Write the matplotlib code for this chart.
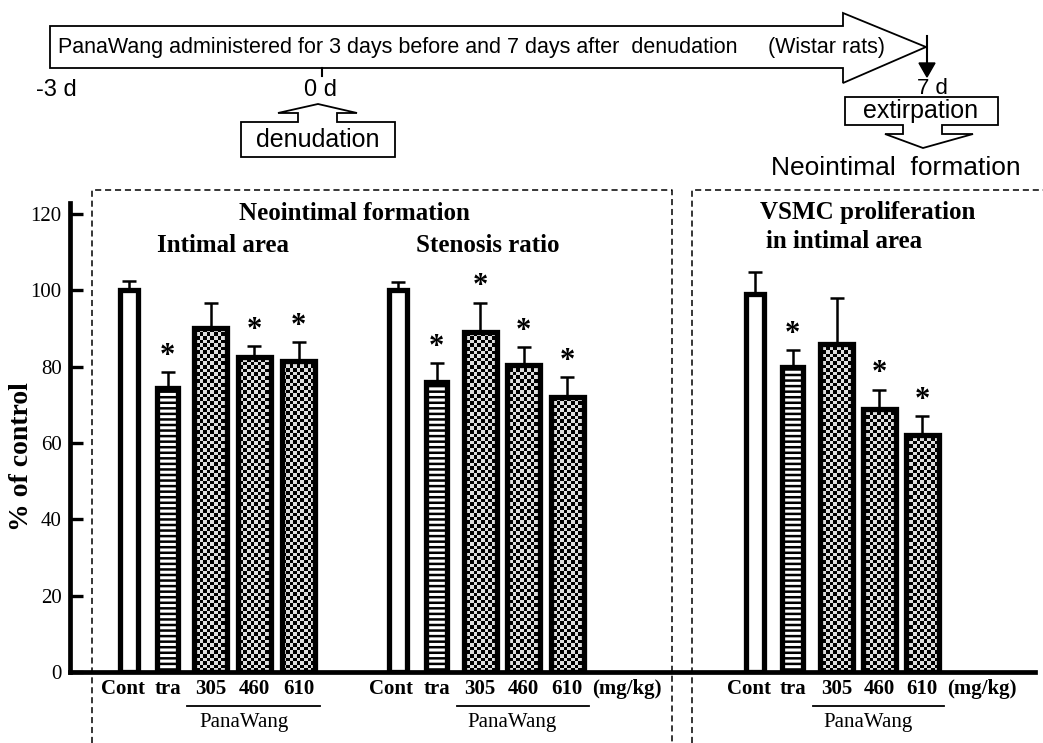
import numpy as np
import matplotlib
matplotlib.use('Agg')
import matplotlib.pyplot as plt
from matplotlib.patches import Polygon

# values, % of control
groups = ['Cont', 'tra', '305', '460', '610']
intimal_area = [100, 74.5, 90, 82.5, 81.5]
intimal_err = [2.4, 4.1, 6.7, 2.9, 5.0]
intimal_sig = [False, True, False, True, True]
stenosis_ratio = [100, 76, 89, 80.5, 72]
stenosis_err = [2.1, 5.0, 7.8, 4.7, 5.3]
stenosis_sig = [False, True, True, True, True]
vsmc_prolif = [99, 80, 86, 69, 62]
vsmc_err = [5.8, 4.3, 12.0, 5.0, 5.1]
vsmc_sig = [False, True, False, True, True]
yticks = [0, 20, 40, 60, 80, 100, 120]

# layout (x in figure pixels)
pos_intimal = [129, 167.5, 210.5, 254, 298.5]
pos_stenosis = [397.5, 436.5, 480, 523.5, 567]
pos_vsmc = [754.5, 792.5, 836.5, 879, 922]
widths = [18, 21, 33, 33, 33]
fills = ['open', 'stripe', 'check', 'check', 'check']

SERIF = 'Liberation Serif'
SANS = 'Liberation Sans'
plt.rcParams['hatch.linewidth'] = 1.8

fig = plt.figure(figsize=(10.43, 7.43), dpi=100)

# overlay in pixel coordinates for the schematic and frames
top = fig.add_axes([0, 0, 1, 1])
top.set_xlim(0, 1043)
top.set_ylim(743, 0)
top.axis('off')

PX = 458 / 120.0
ax = fig.add_axes([70 / 1043, 71 / 743, 965 / 1043, 469 / 743])
ax.set_xlim(70, 1035)
ax.set_ylim(0, 469 / PX)
ax.patch.set_alpha(0)

# checkerboard texture
cell = 3.6
nx, ny = int(965 / cell), int(469 / cell)
board = (np.add.outer(np.arange(ny), np.arange(nx)) % 2).astype(float)


def draw_panel(pos, vals, errs, sig):
    for x, v, e, w, f, s in zip(pos, vals, errs, widths, fills, sig):
        ax.errorbar([x], [v], yerr=[[0], [e]], fmt='none', ecolor='black',
                    elinewidth=1.8, capsize=5, capthick=1.8, zorder=1)
        if f == 'stripe':
            ax.bar(x, v, width=w, color='white', edgecolor='black',
                   hatch='---', linewidth=0, zorder=2)
        else:
            b = ax.bar(x, v, width=w, color='white', linewidth=0, zorder=2)[0]
            if f == 'check':
                im = ax.imshow(board, cmap='gray', interpolation='nearest',
                               extent=(70, 1035, 0, 469 / PX), aspect='auto',
                               vmin=0, vmax=1.15, zorder=2.5)
                im.set_clip_path(b)
        ax.bar(x, v, width=w, fill=False, edgecolor='black',
               linewidth=3.8, zorder=3)
        if s:
            ax.text(x, v + e + 0.3, '*', ha='center', va='bottom',
                    fontsize=22, fontweight='bold', family=SERIF, zorder=4)


draw_panel(pos_intimal, intimal_area, intimal_err, intimal_sig)
draw_panel(pos_stenosis, stenosis_ratio, stenosis_err, stenosis_sig)
draw_panel(pos_vsmc, vsmc_prolif, vsmc_err, vsmc_sig)
ax.set_xlim(70, 1035)
ax.set_ylim(0, 469 / PX)

for side in ['top', 'right']:
    ax.spines[side].set_visible(False)
ax.spines['left'].set_linewidth(3.4)
ax.spines['bottom'].set_linewidth(3.4)
ax.set_xticks([])
ax.set_yticks(yticks)
ax.set_yticklabels([str(t) for t in yticks], family=SERIF, fontsize=15)
ax.tick_params(axis='y', direction='in', length=9, width=2.4, pad=6)
top.text(22, 457, '% of control', rotation=90, ha='center', va='center',
         family=SERIF, fontsize=20, fontweight='bold')

# group labels under the axis
label_dx = [-6, 0, 0, 0, 0]
for pos, unit in [(pos_intimal, False), (pos_stenosis, True), (pos_vsmc, True)]:
    for x, g, dx in zip(pos, groups, label_dx):
        top.text(x + dx, 689, g, ha='center', va='center', family=SERIF,
                 fontsize=15, fontweight='bold')
    left = pos[2] - widths[2] / 2 - 7
    right = pos[4] + widths[4] / 2 + 5
    top.plot([left, right], [706, 706], color='black', lw=1.3)
    top.text((left + right) / 2 - 10, 723, 'PanaWang', ha='center',
             va='center', family=SERIF, fontsize=15)
    if unit:
        top.text(pos[4] + 25, 689, '(mg/kg)', ha='left', va='center',
                 family=SERIF, fontsize=15, fontweight='bold')

# panel titles
bold = dict(family=SERIF, fontsize=18, fontweight='bold', va='center')
top.text(354, 214, 'Neointimal formation', ha='center', **bold)
top.text(223, 245, 'Intimal area', ha='center', **bold)
top.text(488, 245, 'Stenosis ratio', ha='center', **bold)
top.text(760, 212, 'VSMC proliferation', ha='left', **bold)
top.text(766, 242, 'in intimal area', ha='left', **bold)

# dashed frames
dash = dict(color='black', lw=1.1, ls=(0, (4, 2.5)))
top.plot([92, 92, 672, 672], [743, 190, 190, 743], **dash)
top.plot([692, 692, 1043], [743, 190, 190], **dash)

# schematic: big arrow
arrow = [(50, 26), (843, 26), (843, 13), (926, 47), (843, 83), (843, 68), (50, 68)]
top.add_patch(Polygon(arrow, closed=True, fill=False, ec='black', lw=1.3))
top.text(58, 47, 'PanaWang administered for 3 days before and 7 days after  denudation',
         ha='left', va='center', family=SANS, fontsize=15.5)
top.text(768, 47, '(Wistar rats)', ha='left', va='center', family=SANS, fontsize=15.5)
top.plot([322, 322], [68, 76], color='black', lw=1.5)
top.plot([927, 927], [36, 64], color='black', lw=1.5)
top.add_patch(Polygon([(919, 63), (935, 63), (927, 77)], closed=True,
                      fc='black', ec='black', lw=1))

top.text(56, 90, '-3 d', ha='center', va='center', family=SANS, fontsize=17)
top.text(320, 90, '0 d', ha='center', va='center', family=SANS, fontsize=17)
top.text(932, 88, '7 d', ha='center', va='center', family=SANS, fontsize=16)

denud = [(241, 157), (241, 122), (298, 122), (298, 113), (278, 113), (318, 104),
         (357, 113), (337, 113), (337, 122), (395, 122), (395, 157)]
top.add_patch(Polygon(denud, closed=True, fill=False, ec='black', lw=1.3))
top.text(318, 140, 'denudation', ha='center', va='center', family=SANS, fontsize=18)

extirp = [(845, 97), (998, 97), (998, 125), (942, 125), (942, 134), (973, 134),
          (923, 148), (885, 134), (903, 134), (903, 125), (845, 125)]
top.add_patch(Polygon(extirp, closed=True, fill=False, ec='black', lw=1.3))
top.text(921, 111, 'extirpation', ha='center', va='center', family=SANS, fontsize=18)
top.text(896, 168, 'Neointimal  formation', ha='center', va='center', family=SANS,
         fontsize=19)

fig.savefig('out.png', dpi=100)
